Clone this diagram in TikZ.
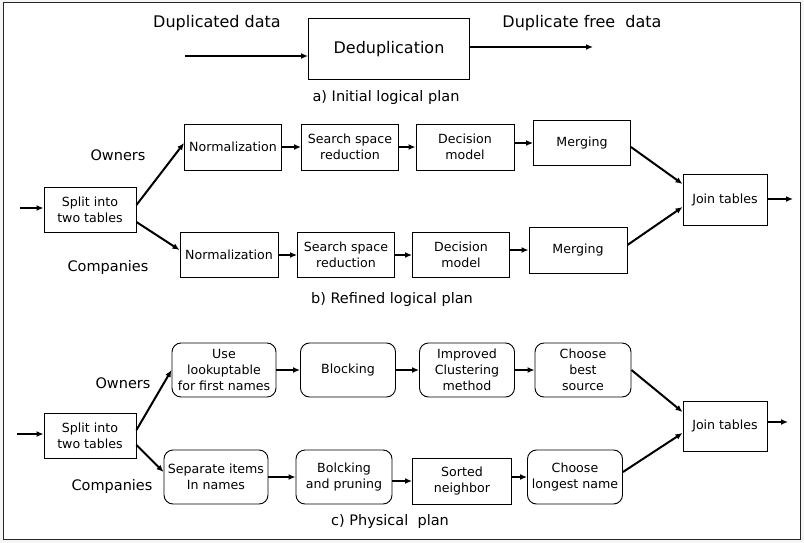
\documentclass[tikz,border=0pt]{standalone}
\usepackage{fontspec}
\setmainfont{DejaVu Sans}
\usetikzlibrary{arrows.meta}

\begin{document}
\begin{tikzpicture}[x=1pt,y=-1pt,
box/.style={draw,line width=0.9pt,align=center,inner sep=1pt,font=\fontsize{12.6}{15.8}\selectfont},
rbox/.style={box,rounded corners=9pt},
lbl/.style={font=\fontsize{14.5}{17}\selectfont},
flow/.style={line width=2pt,-{Latex[length=7pt,width=6pt]}}]
    \useasboundingbox (0,0) rectangle (804,543);
    \fill[gray!8] (0,0) rectangle (804,543);
    \draw[draw=black!85,fill=white,line width=1pt] (3,3) rectangle (800,539);

    % a) initial plan
    \node [box,minimum width=161pt,minimum height=61pt,font=\fontsize{16}{19}\selectfont] (dedup) at (389,49) {Deduplication};
    \node [lbl,font=\fontsize{16}{19}\selectfont] (dupin) at (217,23) {Duplicated data};
    \node [lbl,font=\fontsize{16}{19}\selectfont] (dupout) at (582,23) {Duplicate free~ data};
    \node [lbl] (capA) at (386,98) {a) Initial logical plan};
    \coordinate (inA) at (185,56);
    \coordinate (outA) at (593,47);
    \draw [flow] (inA) -- (inA -| dedup.west);
    \draw [flow] (dedup.east |- outA) -- (outA);

    % b) refined plan
    \node [box,minimum width=92pt,minimum height=45pt] (splitB) at (90,210) {Split into\\two tables};
    \node [box,minimum width=97pt,minimum height=46pt] (normA) at (233,147) {Normalization};
    \node [box,minimum width=97pt,minimum height=46pt] (searchA) at (350,147) {Search space\\reduction};
    \node [box,minimum width=98pt,minimum height=46pt] (decideA) at (465,147) {Decision\\model};
    \node [box,minimum width=97pt,minimum height=45pt] (mergeA) at (582,143) {Merging};
    \node [box,minimum width=98pt,minimum height=45pt] (normB) at (229,255) {Normalization};
    \node [box,minimum width=97pt,minimum height=45pt] (searchB) at (346,255) {Search space\\reduction};
    \node [box,minimum width=97pt,minimum height=45pt] (decideB) at (461,255) {Decision\\model};
    \node [box,minimum width=98pt,minimum height=46pt] (mergeB) at (578,250) {Merging};
    \node [box,minimum width=84pt,minimum height=51pt] (joinB) at (725,200) {Join tables};
    \node [lbl] (ownB) at (118,155) {Owners};
    \node [lbl] (compB) at (108,267) {Companies};
    \node [lbl] (capB) at (392,299) {b) Refined logical plan};
    \coordinate (inB) at (20,208);
    \coordinate (outB) at (793,199);
    \draw [flow] (inB) -- (inB -| splitB.west);
    \draw [flow] ([yshift=5pt]splitB.east) -- ([yshift=4pt]normA.west);
    \draw [flow] ([yshift=-12pt]splitB.east) -- ([yshift=5pt]normB.west);
    \draw [flow] (normA) -- (searchA);
    \draw [flow] (searchA) -- (decideA);
    \draw [flow] (decideA.east |- mergeA) -- (mergeA.west);
    \draw [flow] (normB) -- (searchB);
    \draw [flow] (searchB) -- (decideB);
    \draw [flow] (decideB.east |- mergeB) -- (mergeB.west);
    \draw [flow] ([yshift=-4pt]mergeA.east) -- ([yshift=16pt]joinB.west);
    \draw [flow] ([yshift=5pt]mergeB.east) -- ([yshift=-7pt]joinB.west);
    \draw [flow] (joinB.east |- outB) -- (outB);

    % c) physical plan
    \node [box,minimum width=92pt,minimum height=45pt] (splitC) at (90,436) {Split into\\two tables};
    \node [rbox,minimum width=104pt,minimum height=54pt] (lookC) at (224,370) {Use\\lookuptable\\for first names};
    \node [rbox,minimum width=95pt,minimum height=54pt] (blockC) at (348,370) {Blocking};
    \node [rbox,minimum width=95pt,minimum height=54pt] (clustC) at (467,370) {Improved\\Clustering\\method};
    \node [rbox,minimum width=96pt,minimum height=54pt] (bestC) at (583,370) {Choose\\best\\source};
    \node [rbox,minimum width=104pt,minimum height=54pt] (sepC) at (216,477) {Separate items\\In names};
    \node [rbox,minimum width=96pt,minimum height=54pt] (prunC) at (344,477) {Bolcking\\and pruning};
    \node [box,minimum width=99pt,minimum height=46pt] (sortC) at (462,481) {Sorted\\neighbor};
    \node [rbox,minimum width=95pt,minimum height=54pt] (longC) at (575,477) {Choose\\longest name};
    \node [box,minimum width=84pt,minimum height=50pt] (joinC) at (725,426) {Join tables};
    \node [lbl] (ownC) at (123,383) {Owners};
    \node [lbl] (compC) at (112,486) {Companies};
    \node [lbl] (capC) at (390,521) {c) Physical~ plan};
    \coordinate (inC) at (17,434);
    \coordinate (outC) at (788,422);
    \draw [flow] (inC) -- (inC -| splitC.west);
    \draw [flow] ([yshift=6pt]splitC.east) -- (lookC.west);
    \draw [flow] ([yshift=-9pt]splitC.east) -- ([yshift=5pt]sepC.west);
    \draw [flow] (lookC) -- (blockC);
    \draw [flow] (blockC) -- (clustC);
    \draw [flow] (clustC) -- (bestC);
    \draw [flow] (sepC) -- (prunC);
    \draw [flow] (prunC.east |- sortC) -- (sortC.west);
    \draw [flow] (sortC.east |- longC) -- (longC.west);
    \draw [flow] (bestC.east) -- ([yshift=14pt]joinC.west);
    \draw [flow] ([yshift=5pt]longC.east) -- ([yshift=-7pt]joinC.west);
    \draw [flow] (joinC.east |- outC) -- (outC);
\end{tikzpicture}
\end{document}
